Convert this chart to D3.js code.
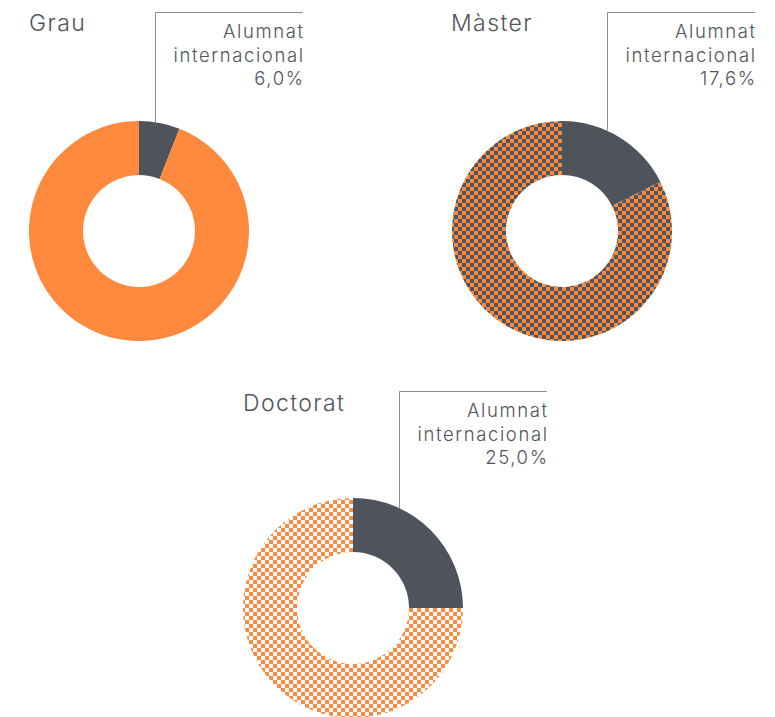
<!DOCTYPE html>
<html>
<head>
<meta charset="utf-8">
<script src="https://cdn.jsdelivr.net/npm/d3@7"></script>
<style>
  body { margin: 0; background: #fff; }
  svg { display: block; }
  text { font-family: Inter, "Open Sans", sans-serif; fill: #50545c; font-weight: 300; }
</style>
</head>
<body>
<div class="canvas"><svg></svg></div>
<script>
var width = 775;
var height = 717;

// data
var levels = ["Grau", "Màster", "Doctorat"];
var intlShare = [6.0, 17.6, 25.0];
var labelLines = ["Alumnat", "internacional"];

var svg = d3.select(".canvas").select("svg")
    .attr("width", width)
    .attr("height", height);

var orange = "#ff8a3d";
var dark = "#4f535b";

// checker patterns
var defs = svg.append("defs");
function checker(id, a, b) {
    var p = defs.append("pattern")
        .attr("id", id)
        .attr("patternUnits", "userSpaceOnUse")
        .attr("width", 8).attr("height", 8);
    p.append("rect").attr("width", 8).attr("height", 8).attr("fill", a);
    p.append("rect").attr("width", 4).attr("height", 4).attr("fill", b);
    p.append("rect").attr("x", 4).attr("y", 4).attr("width", 4).attr("height", 4).attr("fill", b);
}
checker("chkDark", dark, orange);
checker("chkWhite", "#ffffff", orange);

var restFill = [orange, "url(#chkDark)", "url(#chkWhite)"];

// layout of each donut
var centers = [[139, 231], [562, 231], [353, 608]];
var titlePos = [[29, 31], [451, 31], [243, 411]];
var leaderDx = [16, 45, 46];
var leaderTop = [12, 12, 391];
var outerR = 110, innerR = 56;

var pie = d3.pie().sort(null).value(function(d){ return d; });
var arc = d3.arc().innerRadius(innerR).outerRadius(outerR);
var fmt = function(v){ return d3.format(".1f")(v).replace(".", ",") + "%"; };

levels.forEach(function(name, i){
    var g = svg.append("g")
        .attr("transform", "translate(" + centers[i][0] + "," + centers[i][1] + ")");

    var arcs = pie([intlShare[i], 100 - intlShare[i]]);
    g.selectAll("path")
        .data(arcs)
        .enter()
        .append("path")
        .attr("d", arc)
        .attr("fill", function(d, j){ return j === 0 ? dark : restFill[i]; });

    // leader line
    var lx = centers[i][0] + leaderDx[i];
    var ly = centers[i][1] - Math.sqrt(outerR * outerR - leaderDx[i] * leaderDx[i]);
    var rx = lx + 148;
    var top = leaderTop[i];
    svg.append("path")
        .attr("d", "M" + (lx + 0.5) + "," + ly + "V" + (top + 0.5) + "H" + rx)
        .attr("fill", "none")
        .attr("stroke", "#8a8d92")
        .attr("stroke-width", 1);

    var lines = labelLines.concat([fmt(intlShare[i])]);
    svg.append("text")
        .attr("x", rx)
        .attr("y", top + 26)
        .attr("text-anchor", "end")
        .style("font-size", "18.5px")
        .style("letter-spacing", "1.6px")
        .selectAll("tspan")
        .data(lines)
        .enter()
        .append("tspan")
        .attr("x", rx + 1.6)
        .attr("dy", function(d, k){ return k === 0 ? 0 : 23.5; })
        .text(function(d){ return d; });

    svg.append("text")
        .attr("x", titlePos[i][0])
        .attr("y", titlePos[i][1])
        .style("font-size", "23px")
        .style("letter-spacing", "1.4px")
        .text(name);
});
</script>
</body>
</html>
